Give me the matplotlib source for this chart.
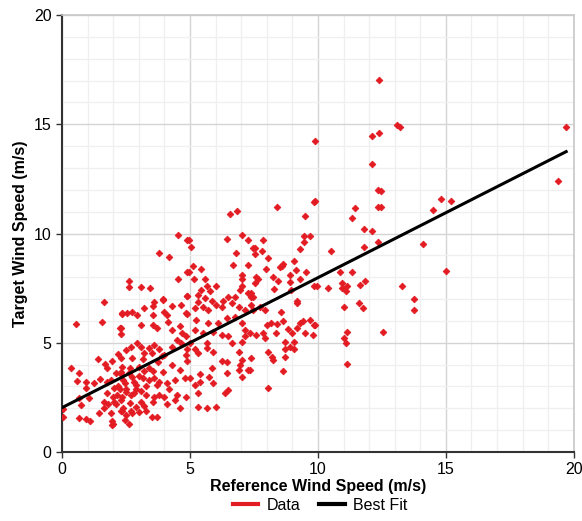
import numpy as np
import matplotlib
matplotlib.use("Agg")
import matplotlib.pyplot as plt
from matplotlib.lines import Line2D
from matplotlib.ticker import MultipleLocator

plt.rcParams["font.family"] = ["Liberation Sans", "DejaVu Sans"]

# reference wind speed (m/s), target wind speed (m/s)
ref_speed = [
    12.4, 13.1, 13.2, 12.1, 12.4, 12.1, 9.9, 19.7, 19.4, 15.2, 15.0,
    12.45, 12.45, 14.8, 14.5, 14.1, 13.3, 13.75, 13.75, 12.55,
    9.9, 12.35, 12.35, 11.45, 11.35, 11.8, 12.1, 12.35, 11.8, 10.5, 10.85, 11.35,
    9.98, 10.4, 10.95, 11.15, 11.1, 10.95, 11.65, 11.85, 11.0, 11.6, 11.75,
    9.9, 11.15, 11.0, 11.1, 11.15,
    8.4, 9.85, 9.5, 7.85, 9.45, 9.7, 9.45, 9.3, 7.55, 7.8, 7.55, 8.05, 9.05,
    8.6, 8.5, 8.65, 7.98, 9.15, 9.55, 8.9, 7.6, 7.65, 8.25, 9.3, 8.45, 8.9,
    7.55, 9.85, 8.3, 8.95, 7.4, 7.4, 9.2,
    6.55, 6.85, 7.05, 7.25, 6.45, 7.45, 4.95, 5.05, 6.8, 6.7, 7.25, 5.1, 4.95,
    5.45, 7.05, 5.15, 7.05, 5.6, 6.0, 5.65, 7.05, 5.45, 5.8, 6.95, 7.25, 5.3,
    4.9, 6.5, 6.75, 5.6, 7.45, 5.85, 6.3,
    4.55, 4.9, 3.8, 4.2, 4.9, 4.55, 2.6, 2.6, 3.1, 3.45, 4.9, 3.95,
    1.65, 2.35, 0.55, 1.55, 2.25, 2.3, 1.4, 1.7, 1.95, 1.75, 0.35, 0.65, 0.6,
    0.95, 1.25, 1.5, 1.75, 2.1, 2.3, 0.95, 2.05, 2.25, 1.75, 2.15, 2.35, 0.65,
    1.05, 0.75, 0.05, 0.05, 0.65, 0.95, 1.1, 1.45, 1.95, 1.95, 1.9, 2.3, 1.65,
    1.65, 2.05,
    2.55, 2.75, 2.95, 2.35, 3.2, 3.55, 3.6, 3.95, 3.55, 4.0, 4.1, 4.3, 4.65,
    4.85, 3.1, 3.55, 3.7, 4.15, 4.3, 4.6, 4.7, 2.3, 2.7, 2.95, 3.1, 3.4, 3.5,
    3.2, 2.5, 2.75, 3.15, 2.3, 3.8, 4.0, 4.3, 4.5, 4.65, 4.85, 4.9, 4.3, 4.6,
    4.8, 4.9, 3.75, 3.4, 3.55, 3.95, 3.0, 2.65, 2.35, 2.3, 2.75, 3.15, 2.45,
    2.9, 3.3, 3.7, 4.1, 4.5, 4.0, 3.6, 3.3, 2.8, 2.5, 2.3, 2.65, 3.1, 3.55,
    4.6, 2.5, 2.75, 3.0, 3.5, 2.35, 2.9, 2.45, 2.0, 2.6,
    5.3, 5.5, 5.2, 5.7, 6.0, 6.25, 6.65, 6.9, 7.15, 7.4, 4.9, 5.25, 5.7, 6.1,
    6.45, 6.75, 7.05, 7.15, 7.35, 7.15, 7.05, 5.2, 5.5, 5.9, 6.25, 6.5, 6.65,
    6.9, 5.65, 5.65, 5.9, 5.0, 5.2, 5.3, 4.85, 6.25, 6.45, 7.05, 6.95, 7.25,
    6.9, 5.85, 6.45, 5.75, 5.4, 5.0, 5.4, 5.2, 5.9, 7.05, 6.5, 6.35, 5.3,
    4.85, 5.3, 5.65, 6.0,
    9.2, 7.45, 7.75, 7.95, 8.55, 8.15, 8.0, 8.4, 8.65, 9.2, 9.3, 9.4, 9.7,
    9.85, 8.85, 9.0, 7.6, 7.85, 7.95, 8.35, 9.5, 9.8, 8.7, 9.05, 8.9, 8.7,
    9.05, 8.05, 8.2, 8.25, 7.4, 8.7, 7.35, 8.65, 8.05,
    2.4, 2.6, 2.8, 3.0, 3.2, 2.5, 2.7, 2.9, 3.1, 3.4, 3.6, 3.8, 2.2, 2.1,
    2.4, 2.7, 3.2, 3.3, 3.8, 4.2, 4.4, 3.9, 3.6, 2.2, 1.9, 1.8, 2.0, 3.7,
    4.1, 4.4,
]
target_speed = [
    17.05, 14.95, 14.9, 14.45, 14.6, 13.2, 14.25, 14.9, 12.4, 11.5, 8.3,
    11.97, 11.2, 11.6, 11.1, 9.5, 7.6, 7.0, 6.5, 5.5,
    11.5, 12.0, 11.2, 11.15, 10.7, 10.2, 10.1, 9.6, 9.4, 9.2, 8.25, 8.25,
    7.6, 7.5, 7.75, 7.6, 7.35, 7.5, 7.65, 7.85, 6.65, 6.8, 6.6,
    5.8, 5.5, 5.2, 5.0, 4.05,
    11.2, 11.45, 10.8, 9.7, 9.9, 9.9, 9.6, 9.3, 9.35, 9.2, 9.05, 8.9, 8.75,
    8.5, 8.45, 8.6, 8.4, 8.35, 8.25, 8.1, 8.0, 7.9, 8.0, 7.9, 7.85, 7.8,
    7.75, 7.6, 7.45, 7.4, 7.3, 7.1, 6.9,
    10.9, 11.05, 9.95, 9.7, 9.75, 9.35, 9.7, 9.4, 9.1, 8.55, 8.55, 8.5, 8.25,
    8.4, 8.1, 7.9, 7.9, 7.9, 7.6, 7.6, 7.6, 7.4, 7.35, 7.4, 7.3, 7.2,
    7.15, 7.1, 7.1, 7.05, 7.1, 6.9, 6.9,
    9.95, 9.7, 9.1, 8.95, 8.25, 7.9, 7.85, 7.55, 7.55, 7.5, 7.15, 7.0,
    6.85, 6.3, 5.85, 5.95, 5.7, 5.4, 4.25, 4.05, 4.15, 3.85, 3.85, 3.6, 3.25,
    3.2, 3.15, 3.35, 3.2, 3.6, 3.65, 2.95, 2.95, 2.9, 2.7, 2.6, 2.5, 2.45,
    2.45, 2.15, 1.95, 1.6, 1.55, 1.5, 1.4, 1.8, 1.25, 1.4, 1.8, 1.9, 2.0,
    2.3, 2.3,
    6.35, 6.4, 6.25, 6.35, 6.6, 6.7, 6.85, 6.95, 6.25, 6.4, 6.25, 6.7, 6.75,
    6.35, 5.8, 5.8, 5.7, 5.95, 5.6, 5.75, 5.45, 5.7, 4.8, 5.0, 4.8, 4.75, 4.55,
    4.55, 4.65, 4.3, 4.25, 4.3, 4.7, 4.45, 4.8, 5.15, 5.0, 5.3, 4.7, 4.0, 3.75,
    3.4, 4.15, 4.1, 3.85, 3.7, 3.65, 3.9, 3.85, 3.9, 3.55, 3.45, 3.4, 3.15,
    3.05, 3.0, 3.05, 3.15, 2.6, 2.5, 2.5, 2.6, 2.7, 2.75, 2.4, 2.25, 2.3, 2.3,
    2.0, 1.7, 1.8, 1.85, 1.6, 1.9, 2.05, 1.45, 1.3, 1.3,
    6.85, 6.65, 6.6, 6.5, 6.75, 6.65, 6.8, 6.65, 6.5, 6.75, 6.3, 6.05, 5.9, 5.9,
    6.15, 6.2, 5.9, 5.6, 5.45, 5.3, 5.05, 5.6, 5.45, 5.5, 5.35, 5.3, 5.0,
    4.6, 5.0, 4.75, 4.6, 5.0, 4.7, 4.55, 4.45, 4.15, 4.1, 4.2, 4.0, 3.75,
    3.75, 3.85, 3.6, 3.45, 3.55, 3.4, 3.2, 3.05, 3.15, 3.45, 2.85, 2.7, 2.7,
    2.5, 2.05, 2.0, 2.05,
    6.8, 6.5, 6.65, 6.5, 6.4, 5.9, 5.8, 5.85, 6.0, 5.7, 5.9, 6.0, 6.05,
    5.8, 5.65, 5.45, 5.35, 5.45, 5.2, 5.45, 5.45, 5.35, 5.05, 5.05, 4.8, 4.7,
    4.7, 4.6, 4.35, 4.2, 4.3, 4.35, 3.75, 3.7, 2.95,
    3.3, 3.6, 3.2, 3.5, 3.7, 2.9, 2.6, 2.9, 2.8, 3.3, 3.4, 3.2, 3.0, 2.2,
    2.0, 1.9, 2.1, 1.9, 2.6, 2.9, 3.3, 4.4, 4.9, 4.5, 3.3, 2.2, 2.5, 1.6,
    2.2, 2.4,
]

# best fit line (intercept, slope) and its x range
fit_intercept = 2.03
fit_slope = 0.595
fit_x = [0.0, 19.7]

fig = plt.figure(figsize=(5.82, 5.21), dpi=100)
ax = fig.add_axes([0.1065, 0.1324, 0.8795, 0.8386])

ax.plot(ref_speed, target_speed, linestyle="none", marker="D", markersize=3.4,
        color="#e31b23", markeredgewidth=0.6, zorder=3)
fx = np.array(fit_x)
ax.plot(fx, fit_intercept + fit_slope * fx, color="black", linewidth=2.2, zorder=4)

ax.set_xlim(0, 20)
ax.set_ylim(0, 20)
ax.xaxis.set_major_locator(MultipleLocator(5))
ax.yaxis.set_major_locator(MultipleLocator(5))
ax.xaxis.set_minor_locator(MultipleLocator(1))
ax.yaxis.set_minor_locator(MultipleLocator(1))
ax.grid(which="major", color="#d4d4d4", linewidth=1.0)
ax.grid(which="minor", color="#efefef", linewidth=0.9)
ax.set_axisbelow(True)
ax.tick_params(which="minor", length=0)
ax.tick_params(which="major", length=4, width=1, labelsize=11.5, color="#333333")

for side in ["left", "bottom"]:
    ax.spines[side].set_color("#333333")
    ax.spines[side].set_linewidth(1.5)
for side in ["top", "right"]:
    ax.spines[side].set_color("#c8c8c8")
    ax.spines[side].set_linewidth(1.2)

ax.set_xlabel("Reference Wind Speed (m/s)", fontsize=11.5, fontweight="bold", labelpad=1)
ax.set_ylabel("Target Wind Speed (m/s)", fontsize=11.5, fontweight="bold", labelpad=4)

handles = [Line2D([0], [0], color="#e31b23", linewidth=3),
           Line2D([0], [0], color="black", linewidth=3)]
fig.legend(handles, ["Data", "Best Fit"], loc="lower center", ncol=2, frameon=False,
           fontsize=11.5, bbox_to_anchor=(0.55, -0.012), handlelength=1.6,
           columnspacing=1.2, handletextpad=0.5)

fig.savefig("out.png", dpi=100)
